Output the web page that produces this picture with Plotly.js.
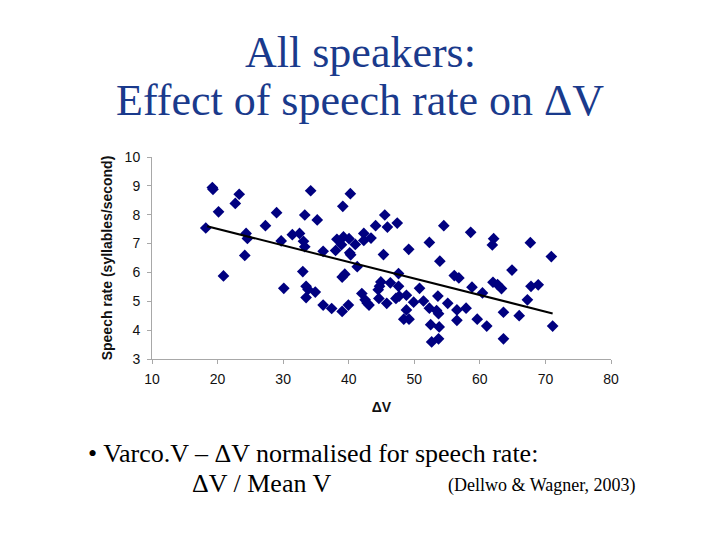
<!DOCTYPE html>
<html>
<head>
<meta charset="utf-8">
<script src="https://cdn.plot.ly/plotly-3.0.1.min.js"></script>
<style>html,body{margin:0;padding:0;background:#fff;}#chart{width:720px;height:540px;}</style>
</head>
<body>
<div id="chart"></div>
<script>
// Delta V (x) values of each speaker sample
const deltaV = [18.2, 19.2, 19.3, 20.15, 20.9, 22.7, 23.3, 24.35, 24.55, 24.15,
  27.3, 29.0, 29.7, 30.1, 31.4, 32.5, 33.1, 33.3, 33.3, 34.2,
  35.2, 33.0, 33.5, 33.8, 33.5, 34.9, 36.1, 36.1, 37.4, 38.0,
  38.2, 38.9, 39.2, 39.1, 40.25, 40.05, 40.15, 40.3, 41.0, 41.3,
  42.3, 42.3, 39.0, 39.4, 39.0, 39.95, 42.0, 42.5, 42.8, 43.1,
  43.4, 44.1, 45.5, 45.9, 47.4, 45.3, 49.15, 47.6, 44.9, 44.7,
  44.5, 46.35, 47.6, 44.6, 45.8, 47.2, 47.7, 48.8, 48.8, 48.4,
  49.2, 49.9, 50.8, 51.4, 52.3, 52.3, 53.6, 52.5, 52.65, 53.7,
  53.8, 53.4, 53.7, 53.9, 54.5, 55.1, 56.1, 56.8, 56.5, 56.5,
  57.9, 58.6, 58.8, 59.6, 60.4, 61.05, 62.1, 61.9, 62.0, 62.7,
  63.3, 63.6, 63.6, 64.9, 66.0, 67.25, 67.7, 67.8, 68.9, 70.9, 71.1];
// Speech rate (syllables/second) of each sample
const speechRate = [7.54, 8.94, 8.88, 8.10, 5.88, 8.39, 8.71, 7.35, 7.18, 6.59,
  7.62, 8.07, 7.09, 5.45, 7.31, 7.35, 7.08, 6.89, 7.99, 8.83,
  7.82, 6.03, 5.52, 5.41, 5.13, 5.32, 6.73, 4.87, 4.75, 6.76,
  7.15, 6.96, 7.23, 8.29, 8.73, 7.17, 6.68, 6.61, 6.97, 6.20,
  7.35, 7.11, 5.84, 5.94, 4.65, 4.87, 5.27, 5.05, 4.94, 4.87,
  7.19, 7.62, 7.99, 7.57, 7.71, 6.62, 6.80, 5.96, 5.67, 5.52,
  5.40, 5.64, 5.52, 5.10, 4.93, 5.10, 5.18, 5.21, 4.70, 4.38,
  4.38, 4.97, 5.45, 5.01, 7.04, 4.76, 5.18, 4.19, 3.59, 3.70,
  4.11, 4.68, 4.57, 6.39, 7.62, 4.93, 5.89, 5.81, 4.70, 4.34,
  4.76, 7.39, 5.49, 4.38, 5.29, 4.14, 7.17, 6.95, 5.66, 5.58,
  5.44, 4.62, 3.70, 6.08, 4.50, 5.05, 7.03, 5.52, 5.57, 6.55, 4.14];
// Linear trend line end points
const trendX = [18.4, 71.1];
const trendY = [7.60, 4.58];
const xTicks = [10, 20, 30, 40, 50, 60, 70, 80];
const yTicks = [3, 4, 5, 6, 7, 8, 9, 10];

const blue = '#1a3a8c';
const L = 152, R = 611, T = 157, B = 359;
function px(x) { return (x - L) / (R - L); }
function py(y) { return (B - y) / (B - T); }

const data = [
  {x: deltaV, y: speechRate, type: 'scatter', mode: 'markers',
   marker: {symbol: 'diamond', size: 9, color: '#000080'}, hoverinfo: 'x+y'},
  {x: trendX, y: trendY, type: 'scatter', mode: 'lines',
   line: {color: '#000000', width: 2}}
];

const tnr = 'Liberation Serif, Times New Roman, serif';
const sans = 'Liberation Sans, Arial, sans-serif';
const layout = {
  width: 720, height: 540, showlegend: false,
  paper_bgcolor: '#ffffff', plot_bgcolor: '#ffffff',
  margin: {l: L, r: 720 - R, t: T, b: 540 - B, pad: 0},
  xaxis: {range: [10, 80], tickvals: xTicks, showgrid: false, zeroline: false,
    showline: true, linecolor: '#a8a8a8', linewidth: 1,
    ticks: 'outside', ticklen: 4, tickcolor: '#a8a8a8', ticklabelstandoff: 3,
    tickfont: {family: sans, size: 14, color: '#111'},
    title: {text: '<b>ΔV</b>', font: {family: sans, size: 14, color: '#111'}, standoff: 16}},
  yaxis: {range: [3, 10], tickvals: yTicks, showgrid: false, zeroline: false,
    showline: true, linecolor: '#a8a8a8', linewidth: 1,
    ticks: 'outside', ticklen: 4, tickcolor: '#a8a8a8', ticklabelstandoff: 4,
    tickfont: {family: sans, size: 14, color: '#111'},
    title: {text: '<b>Speech rate (syllables/second)</b>', font: {family: sans, size: 14, color: '#111'}, standoff: 8}},
  annotations: [
    {xref: 'paper', yref: 'paper', x: px(360), y: py(52), text: 'All speakers:',
     showarrow: false, xanchor: 'center', yanchor: 'middle',
     font: {family: tnr, size: 44, color: blue}},
    {xref: 'paper', yref: 'paper', x: px(360), y: py(100), text: 'Effect of speech rate on ΔV',
     showarrow: false, xanchor: 'center', yanchor: 'middle',
     font: {family: tnr, size: 44, color: blue}},
    {xref: 'paper', yref: 'paper', x: px(86), y: py(453), text: '• Varco.V – ΔV normalised for speech rate:',
     showarrow: false, xanchor: 'left', yanchor: 'middle',
     font: {family: tnr, size: 26, color: '#000'}},
    {xref: 'paper', yref: 'paper', x: px(190), y: py(483), text: 'ΔV / Mean V',
     showarrow: false, xanchor: 'left', yanchor: 'middle',
     font: {family: tnr, size: 26, color: '#000'}},
    {xref: 'paper', yref: 'paper', x: px(637), y: py(485), text: '(Dellwo &amp; Wagner, 2003)',
     showarrow: false, xanchor: 'right', yanchor: 'middle',
     font: {family: tnr, size: 18, color: '#000'}}
  ]
};

Plotly.newPlot('chart', data, layout, {staticPlot: true});
</script>
</body>
</html>
